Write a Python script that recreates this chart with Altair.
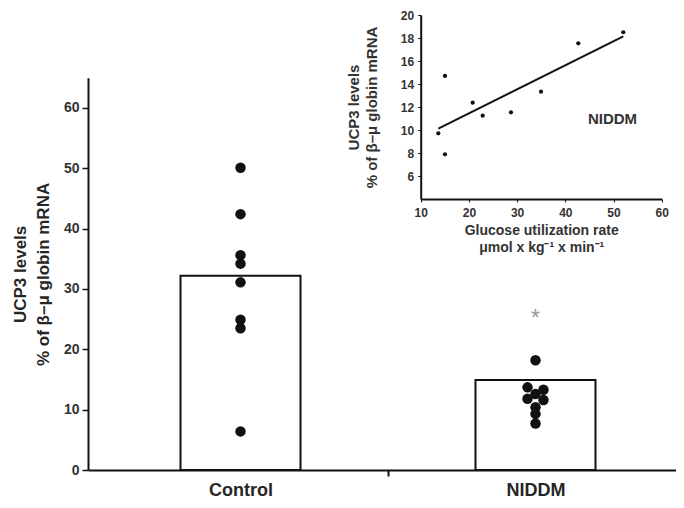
import altair as alt
import pandas as pd

# ---------------- data ----------------
groups = ["Control", "NIDDM"]
group_pos = [1, 2]
bar_means = [32.2, 14.9]

control_values = [50.1, 42.4, 35.6, 34.2, 31.1, 24.9, 23.5, 6.4]
control_jitter = [0, 0, 0, 0, 0, 0, 0, 0]
niddm_values = [18.2, 13.7, 13.3, 12.6, 11.8, 11.6, 10.4, 9.3, 7.7]
niddm_jitter = [0, -1, 1, 0, -1, 1, 0, 0, 0]

star_text = ["*"]
star_group = [2]
star_y = [25.0]

glucose_rate = [13.65, 15.04, 15.04, 20.79, 22.86, 28.73, 34.96, 42.70, 52.03]
inset_ucp3 = [9.71, 7.89, 14.70, 12.37, 11.24, 11.54, 13.33, 17.54, 18.50]

inset_label = ["NIDDM"]
inset_label_x = [49.8]
inset_label_y = [11.0]

main_y_ticks = [0, 10, 20, 30, 40, 50, 60]
inset_x_ticks = [10, 20, 30, 40, 50, 60]
inset_y_ticks = [6, 8, 10, 12, 14, 16, 18, 20]

# ---------------- tables ----------------
bars_df = pd.DataFrame({"group": groups, "pos": group_pos, "mean": bar_means})
dots_df = pd.DataFrame({
    "pos": [1] * len(control_values) + [2] * len(niddm_values),
    "jit": control_jitter + niddm_jitter,
    "val": control_values + niddm_values,
})
star_df = pd.DataFrame({"t": star_text, "pos": star_group, "val": star_y})
inset_df = pd.DataFrame({"rate": glucose_rate, "ucp": inset_ucp3})
inset_lab_df = pd.DataFrame({"t": inset_label, "rate": inset_label_x, "ucp": inset_label_y})

FONT = "Liberation Sans"
TXT = "#262626"

# ---------------- main chart encodings ----------------
def main_x(field):
    return alt.X(
        f"{field}:Q",
        scale=alt.Scale(domain=[0.5, 2.5], range=[0, 600], nice=False, zero=False),
        axis=alt.Axis(
            orient="bottom", values=[1, 1.5, 2], title=None, grid=False,
            labelExpr="datum.value == 1 ? 'Control' : datum.value == 2 ? 'NIDDM' : ''",
            labelFontSize=18, labelFontWeight="bold", labelFont=FONT, labelColor=TXT,
            labelBaseline="alphabetic", labelPadding=19, labelOverlap=False, labelFlush=False,
            tickSize=6, tickColor="#111", tickWidth=2,
            tickOpacity={"condition": {"test": "datum.value == 1.5", "value": 1}, "value": 0},
            domainColor="#111", domainWidth=2,
        ),
    )


def main_y(field):
    return alt.Y(
        f"{field}:Q",
        scale=alt.Scale(domain=[0, 65], range=[458, 65.8], nice=False, zero=False),
        axis=alt.Axis(
            orient="left", values=main_y_ticks, grid=False,
            title=["UCP3 levels", "% of β–μ globin mRNA"],
            titleFontSize=17, titleFontWeight="bold", titleFont=FONT, titleColor=TXT,
            titleLineHeight=23, titleBaseline="top", titleX=-76,
            labelFontSize=14, labelFontWeight="bold", labelFont=FONT, labelColor="#333",
            labelPadding=3, tickSize=6, tickColor="#111", tickWidth=1.5,
            domainColor="#111", domainWidth=2,
        ),
    )


bars = alt.Chart(bars_df).mark_bar(
    size=120, orient="vertical", fill="white", stroke="#111", strokeWidth=2
).encode(x=main_x("pos"), y=main_y("mean"))

dots = alt.Chart(dots_df).transform_calculate(
    xpos="datum.pos + datum.jit * 0.027"
).mark_circle(size=110, color="#111", opacity=1).encode(
    x=main_x("xpos"), y=main_y("val")
)

star = alt.Chart(star_df).mark_text(
    fontSize=24, color="#9a9a9a", font=FONT, baseline="middle"
).encode(x=main_x("pos"), y=main_y("val"), text="t:N")

main_layer = alt.layer(bars, dots, star)

# ---------------- inset encodings ----------------
def inset_x(field):
    return alt.X(
        f"{field}:Q",
        scale=alt.Scale(domain=[10, 60], range=[332.7, 573.7], nice=False, zero=False),
        axis=alt.Axis(
            orient="bottom", offset=-271, values=inset_x_ticks, grid=False,
            title=["Glucose utilization rate", "μmol x kg⁻¹ x min⁻¹"],
            titleFontSize=14, titleFontWeight="bold", titleFont=FONT, titleColor="#333",
            titleLineHeight=17, titleBaseline="top", titleY=24,
            labelFontSize=12, labelFontWeight="bold", labelFont=FONT, labelColor="#333",
            labelPadding=5, tickSize=3, tickColor="#111", labelOverlap=False, labelFlush=False,
            domainColor="#111", domainWidth=2,
        ),
    )


def inset_y(field):
    return alt.Y(
        f"{field}:Q",
        scale=alt.Scale(domain=[4, 20], range=[187, 3], nice=False, zero=False),
        axis=alt.Axis(
            orient="left", offset=-332.7, values=inset_y_ticks, grid=False,
            title=["UCP3 levels", "% of β–μ globin mRNA"],
            titleFontSize=15, titleFontWeight="bold", titleFont=FONT, titleColor="#333",
            titleLineHeight=18, titleBaseline="top", titleX=-74,
            labelFontSize=12, labelFontWeight="bold", labelFont=FONT, labelColor="#333",
            labelPadding=4, tickSize=3, tickColor="#111", labelOverlap=False, labelFlush=False,
            domainColor="#111", domainWidth=2,
        ),
    )


inset_pts = alt.Chart(inset_df).mark_circle(size=18, color="#111", opacity=1).encode(
    x=inset_x("rate"), y=inset_y("ucp")
)

inset_fit = alt.Chart(inset_df).transform_regression("rate", "ucp").mark_line(
    color="#111", strokeWidth=2
).encode(x=inset_x("rate"), y=inset_y("ucp"))

inset_txt = alt.Chart(inset_lab_df).mark_text(
    fontSize=15, fontWeight="bold", font=FONT, color="#333", baseline="middle"
).encode(x=inset_x("rate"), y=inset_y("ucp"), text="t:N")

inset_layer = alt.layer(inset_pts, inset_fit, inset_txt)

chart = alt.layer(main_layer, inset_layer).resolve_scale(
    x="independent", y="independent"
).properties(
    width=588, height=458,
    autosize=alt.AutoSizeParams(type="none"),
    padding={"left": 80, "top": 4, "right": 0, "bottom": 29},
    background="white",
).configure_view(stroke=None)

chart.save("out.html", embed_options={"renderer": "svg", "actions": False})
